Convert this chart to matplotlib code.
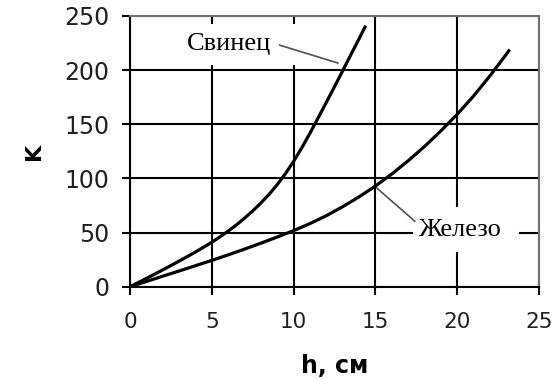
import matplotlib.pyplot as plt
from matplotlib.patches import Rectangle

# Данные
h_lead = [0, 1, 2, 3, 4, 5, 5.5, 6, 6.5, 7, 7.5, 8, 8.5, 9, 9.5, 10, 10.5,
          11, 11.5, 12, 12.5, 13, 13.5, 14, 14.4]
k_lead = [0, 7.6, 15.5, 23.6, 32, 41, 46, 51.3, 57, 63.3, 70, 77.3, 85.3, 94.3,
          104.4, 115.8, 128.3, 141.8, 156, 170.3, 184.8, 199.5, 214.3, 229, 241]

h_iron = [0, 1, 2, 3, 4, 5, 6, 7, 8, 9, 10, 11, 12, 13, 14, 15, 16, 17, 18, 19,
          20, 21, 22, 23, 23.2]
k_iron = [0, 4.8, 9.7, 14.5, 19.4, 24.3, 29.4, 34.7, 40.2, 45.9, 51.8, 58.3, 65.6,
          73.9, 83, 93, 104.1, 116.3, 129.5, 143.9, 159.3, 176.2, 194.8, 214.7, 219]

x_ticks = [0, 5, 10, 15, 20, 25]
y_ticks = [0, 50, 100, 150, 200, 250]

fig = plt.figure(figsize=(5.53, 3.79), dpi=100)
ax = fig.add_axes([0.235, 0.2435, 0.74, 0.7145])

ax.set_xlim(0, 25)
ax.set_ylim(0, 250)
ax.set_xticks(x_ticks)
ax.set_yticks(y_ticks)
ax.grid(True, color="black", linewidth=1.5, zorder=0)
ax.set_axisbelow(True)

# белые подложки подписей (закрывают сетку)
ax.add_patch(Rectangle((2.8, 205), 7.6, 38, facecolor="white", edgecolor="none", zorder=1))
ax.add_patch(Rectangle((17.3, 32.5), 6.45, 41.5, facecolor="white", edgecolor="none", zorder=1))

ax.plot(h_lead, k_lead, color="black", linewidth=2.3, zorder=3, solid_capstyle="butt")
ax.plot(h_iron, k_iron, color="black", linewidth=2.3, zorder=3, solid_capstyle="butt")

# выноски
ax.plot([9.15, 12.7], [223, 206.5], color="#505050", linewidth=1.2, zorder=2)
ax.plot([15.05, 17.4], [91.5, 60.5], color="#505050", linewidth=1.2, zorder=2)
ax.text(6.04, 224, "Свинец", family="Liberation Serif", fontsize=19,
        ha="center", va="center", zorder=4)
ax.text(20.2, 52.5, "Железо", family="Liberation Serif", fontsize=19,
        ha="center", va="center", zorder=4)

for s in ["left", "bottom"]:
    ax.spines[s].set_color("black")
    ax.spines[s].set_linewidth(1.5)
for s in ["top", "right"]:
    ax.spines[s].set_color("#707070")
    ax.spines[s].set_linewidth(1.5)

ax.tick_params(axis="both", direction="out", length=6, width=1.5, color="black",
               labelcolor="#202020")
ax.tick_params(axis="y", pad=9, labelsize=17)
ax.tick_params(axis="x", pad=12, labelsize=15.5)

ax.set_xlabel("h, см", fontsize=17, fontweight="bold", labelpad=16)
ax.set_ylabel("K", fontsize=16, fontweight="bold", labelpad=14)

fig.savefig("out.png", dpi=100, facecolor="white")
